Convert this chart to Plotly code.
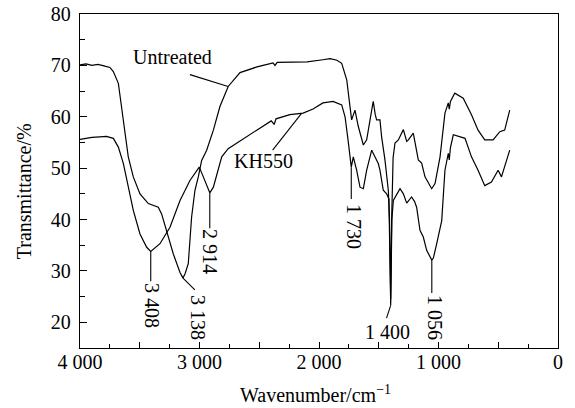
import numpy as np
import plotly.graph_objects as go

# ---------------- data ----------------
untreated_wn = [4000, 3950, 3900, 3850, 3800, 3750, 3721, 3679, 3653, 3623, 3596, 3554, 3498,
                3428, 3345, 3317, 3275, 3219, 3163, 3138, 3120, 3094, 3066, 3038, 3010, 2982,
                2940, 2884, 2829, 2760, 2661, 2519, 2385, 2368, 2350, 2243, 2100, 1967, 1908,
                1850, 1810, 1768, 1741, 1727, 1699, 1671, 1629, 1601, 1559, 1546, 1530, 1518,
                1490, 1476, 1448, 1420, 1410, 1400, 1392, 1380, 1364, 1336, 1294, 1266, 1252,
                1211, 1169, 1141, 1113, 1057, 1029, 987, 946, 918, 910, 900, 864, 793, 724,
                669, 613, 543, 487, 446, 404]
untreated_t = [70.1, 70.3, 70.0, 70.2, 69.9, 69.6, 68.8, 66.5, 62.0, 56.8, 52.2, 48.3, 45.0,
               43.1, 42.4, 41.1, 37.9, 33.3, 29.7, 28.6, 29.5, 31.4, 40.5, 45.7, 48.3, 51.5,
               53.5, 57.4, 62.0, 65.9, 68.6, 69.7, 70.5, 70.0, 70.6, 70.7, 70.7, 71.1, 71.3,
               71.0, 70.4, 67.2, 61.3, 59.4, 61.3, 58.1, 54.5, 55.5, 61.3, 63.0, 60.5, 59.4,
               59.4, 56.1, 51.6, 45.7, 40.0, 24.5, 40.0, 52.0, 54.9, 55.5, 57.5, 55.2, 55.5,
               56.8, 51.6, 51.0, 48.3, 46.0, 47.0, 52.2, 60.7, 62.7, 61.5, 63.0, 64.6, 63.6,
               60.4, 57.4, 55.5, 55.5, 57.1, 57.4, 61.3]

kh550_wn = [4000, 3950, 3900, 3833, 3780, 3721, 3679, 3637, 3596, 3554, 3498, 3442, 3408,
            3331, 3247, 3163, 3080, 3002, 2968, 2914, 2884, 2856, 2814, 2760, 2689, 2521,
            2400, 2375, 2360, 2243, 2133, 2050, 1967, 1883, 1810, 1782, 1757, 1736, 1730,
            1713, 1685, 1657, 1629, 1601, 1559, 1532, 1504, 1490, 1462, 1434, 1415, 1400,
            1390, 1378, 1350, 1322, 1294, 1266, 1225, 1200, 1183, 1155, 1127, 1099, 1056,
            1043, 1015, 973, 946, 918, 910, 900, 876, 778, 724, 669, 613, 557, 501, 473, 404]
kh550_t = [55.6, 55.8, 56.0, 56.1, 56.2, 55.8, 54.1, 50.9, 46.3, 41.8, 37.2, 34.6, 33.8,
           35.3, 38.5, 43.7, 47.6, 50.2, 48.3, 45.2, 46.3, 48.9, 52.2, 53.8, 54.9, 57.4,
           59.2, 58.5, 59.6, 60.4, 60.7, 61.5, 62.7, 63.0, 62.3, 60.0, 55.5, 50.6, 50.2,
           52.2, 49.6, 46.3, 46.0, 49.6, 53.5, 52.2, 50.9, 49.6, 45.7, 45.0, 44.0, 23.3,
           40.0, 43.7, 45.0, 46.0, 45.0, 43.2, 44.4, 43.5, 42.4, 37.9, 36.6, 34.0, 32.1,
           32.5, 35.3, 39.8, 49.6, 52.9, 51.6, 54.0, 56.5, 55.8, 52.2, 49.6, 46.6, 47.3,
           49.6, 48.3, 53.5]

x_tick_vals = [4000, 3000, 2000, 1000, 0]
x_tick_text = ["4 000", "3 000", "2 000", "1 000", "0"]
x_half_ticks = [3500, 2500, 1500, 500]
y_tick_vals = [20, 30, 40, 50, 60, 70, 80]

peak_wn = [3408, 3138, 2914, 1730, 1400, 1056]
peak_text = ["3 408", "3 138", "2 914", "1 730", "1 400", "1 056"]
peak_series = ["kh550", "untreated", "kh550", "kh550", "kh550", "kh550"]

series_names = ["Untreated", "KH550"]

# ---------------- helpers ----------------
def val_at(series, wn):
    if series == "untreated":
        xs, ys = untreated_wn, untreated_t
    else:
        xs, ys = kh550_wn, kh550_t
    return float(np.interp(wn, xs[::-1], ys[::-1]))

FONT = "Times New Roman, Liberation Serif, DejaVu Serif, serif"
FS = 20
LINE = dict(color="black", width=1.2)
TF = dict(family=FONT, size=FS, color="black")

fig = go.Figure()
fig.add_trace(go.Scatter(x=untreated_wn, y=untreated_t, mode="lines", line=LINE,
                         name=series_names[0], showlegend=False, hoverinfo="skip"))
fig.add_trace(go.Scatter(x=kh550_wn, y=kh550_t, mode="lines", line=LINE,
                         name=series_names[1], showlegend=False, hoverinfo="skip"))
# invisible helper trace so that the secondary (half-step tick) axis is drawn
fig.add_trace(go.Scatter(x=[kh550_wn[0]], y=[kh550_t[0]], xaxis="x2", mode="markers",
                         marker=dict(opacity=0), showlegend=False, hoverinfo="skip"))

# leader line end points (data units) and text centres
leader_end = {"3 408": (3408, 28.0), "3 138": (3039, 26.3), "2 914": (2914, 38.3),
              "1 730": (1730, 44.0), "1 400": (1435, 20.8), "1 056": (1056, 25.7)}
text_pos = {"3 408": (3402, 23.3, 90), "3 138": (3011, 21.0, 90), "2 914": (2913, 33.7, 90),
            "1 730": (1709, 38.6, 90), "1 400": (1429, 18.2, 0), "1 056": (1023, 20.9, 90)}

for wn, txt, s in zip(peak_wn, peak_text, peak_series):
    y0 = val_at(s, wn)
    x1, y1 = leader_end[txt]
    fig.add_shape(type="line", x0=wn, y0=y0, x1=x1, y1=y1, xref="x", yref="y",
                  line=dict(color="black", width=1.1))
    tx, ty, ang = text_pos[txt]
    fig.add_annotation(x=tx, y=ty, text=txt, showarrow=False, textangle=ang, font=TF,
                       xanchor="center", yanchor="middle")

# series labels
fig.add_shape(type="line", x0=3080, y0=68.2, x1=2760, y1=val_at("untreated", 2760),
              xref="x", yref="y", line=dict(color="black", width=1.1))
fig.add_annotation(x=3222, y=71.6, text=series_names[0], showarrow=False, font=TF)
fig.add_shape(type="line", x0=2388, y0=53.5, x1=2146, y1=val_at("kh550", 2146),
              xref="x", yref="y", line=dict(color="black", width=1.1))
fig.add_annotation(x=2461, y=51.3, text=series_names[1], showarrow=False, font=TF)

# axis titles
fig.add_annotation(x=-0.118, y=0.468, xref="paper", yref="paper", text="Transmittance/%",
                   textangle=-90, showarrow=False, xanchor="center", yanchor="middle", font=TF)
fig.add_annotation(x=0.493, y=-0.139, xref="paper", yref="paper",
                   text="Wavenumber/cm<sup>\u22121</sup>",
                   showarrow=False, xanchor="center", yanchor="middle", font=TF)

fig.update_layout(
    width=575, height=408, autosize=False,
    font=TF,
    margin=dict(l=80, r=17, t=14, b=60),
    plot_bgcolor="white", paper_bgcolor="white", showlegend=False,
    xaxis=dict(range=[4000, 0], tickmode="array", tickvals=x_tick_vals, ticktext=x_tick_text,
               ticks="inside", ticklen=6, tickwidth=1.1, tickcolor="black",
               minor=dict(ticks="inside", dtick=250, tick0=0, ticklen=3.5, tickwidth=1.1,
                          tickcolor="black", showgrid=False),
               showline=True, linecolor="black", linewidth=1.3, mirror=True,
               showgrid=False, zeroline=False, ticklabelstandoff=-4, automargin=False,
               tickfont=TF),
    xaxis2=dict(range=[4000, 0], overlaying="x", side="bottom", anchor="y",
                tickmode="array", tickvals=x_half_ticks, showticklabels=False,
                ticks="inside", ticklen=6, tickwidth=1.1, tickcolor="black",
                showline=False, showgrid=False, zeroline=False, automargin=False),
    yaxis=dict(range=[15, 80], tickmode="array", tickvals=y_tick_vals,
               ticks="inside", ticklen=7, tickwidth=1.1, tickcolor="black",
               minor=dict(ticks="inside", dtick=5, tick0=0, ticklen=4.5, tickwidth=1.1,
                          tickcolor="black", showgrid=False),
               showline=True, linecolor="black", linewidth=1.3, mirror=True,
               showgrid=False, zeroline=False, ticklabelstandoff=4, automargin=False,
               tickfont=TF),
)

fig.write_html("out.html")
